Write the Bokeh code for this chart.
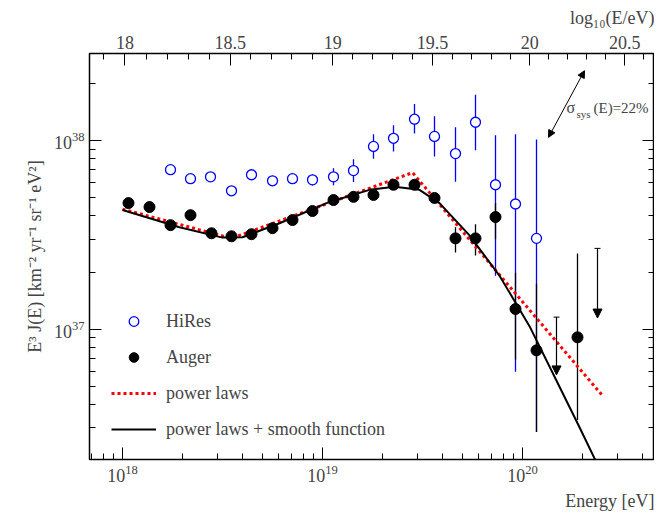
import numpy as np
from bokeh.plotting import figure
from bokeh.models import (LinearAxis, LogAxis, Range1d, FixedTicker, LogTicker, Label, Title,
                          Arrow, NormalHead, TeeHead, Legend, LegendItem, CustomJSTickFormatter)
from bokeh.embed import file_html
from bokeh.resources import INLINE

# log10(E/eV) and log10(E^3 J)
auger_le = [18.03, 18.135, 18.24, 18.34, 18.445, 18.545, 18.645, 18.75, 18.85, 18.95, 19.055,
            19.155, 19.255, 19.355, 19.46, 19.56, 19.665, 19.765, 19.865, 19.965, 20.07, 20.275]
auger_lj = [37.668, 37.647, 37.551, 37.604, 37.508, 37.492, 37.503, 37.535, 37.578, 37.626, 37.684,
            37.701, 37.711, 37.765, 37.765, 37.695, 37.481, 37.481, 37.594, 37.107, 36.888, 36.957]
auger_hi = [v + 0.025 for v in auger_lj[:16]] + [37.540, 37.556, 37.668, 37.299, 37.241, 37.401]
auger_lo = [v - 0.025 for v in auger_lj[:16]] + [37.406, 37.390, 37.476, 36.840, 36.455, 36.519]

ul_le = [20.17, 20.375]
ul_top = [37.064, 37.428]
ul_bot = [36.758, 37.059]

hires_le = [18.24, 18.34, 18.44, 18.545, 18.645, 18.75, 18.85, 18.95, 19.055, 19.155, 19.255,
            19.355, 19.46, 19.56, 19.665, 19.765, 19.865, 19.965, 20.07]
hires_lj = [37.845, 37.797, 37.807, 37.733, 37.818, 37.786, 37.797, 37.791, 37.807, 37.840, 37.968,
            38.011, 38.112, 38.021, 37.930, 38.096, 37.765, 37.663, 37.481]
hires_err = [0.02, 0.02, 0.02, 0.025, 0.025, 0.027, 0.027, 0.03, 0.045, 0.06, 0.065]
hires_hi = [v + e for v, e in zip(hires_lj, hires_err)] + [38.080, 38.193, 38.128, 38.070, 38.241, 38.027, 38.032, 38.005]
hires_lo = [v - e for v, e in zip(hires_lj, hires_err)] + [37.941, 38.037, 37.914, 37.781, 37.947, 37.283, 36.775, 36.455]

pl_le = [18.0, 18.545, 19.45, 20.405]
pl_lj = [37.636, 37.481, 37.829, 36.642]

sm_le = [18.0, 18.285, 18.5, 18.6, 18.785, 19.035, 19.235, 19.36, 19.485, 19.585, 19.735,
         19.885, 20.035, 20.185, 20.285, 20.365]
sm_lj = [37.631, 37.540, 37.485, 37.487, 37.561, 37.674, 37.738, 37.754, 37.738, 37.668, 37.497,
         37.283, 37.016, 36.695, 36.481, 36.305]

top_ticks = [18, 18.5, 19, 19.5, 20, 20.5]

x_lo, x_hi = 17.835, 20.66
y_lo, y_hi = 36.31, 38.46
E = lambda a: [10 ** v for v in a]

FONT = "Liberation Serif"

p = figure(width=654, height=514, x_axis_type="log", y_axis_type="log",
           x_range=Range1d(10 ** x_lo, 10 ** x_hi), y_range=Range1d(10 ** y_lo, 10 ** y_hi),
           output_backend="svg", toolbar_location=None,
           min_border_left=89, min_border_right=0, min_border_top=30, min_border_bottom=30)
p.grid.grid_line_color = None
p.outline_line_color = "black"
p.outline_line_width = 1.5

p.extra_x_ranges = {"top": Range1d(x_lo, x_hi)}
top = LinearAxis(x_range_name="top", ticker=FixedTicker(ticks=top_ticks,
                 minor_ticks=list(np.arange(17.9, 20.65, 0.1))))
p.add_layout(top, "above")
right = LogAxis(ticker=LogTicker(num_minor_ticks=10),
                formatter=CustomJSTickFormatter(code="return ''"))
p.add_layout(right, "right")

bottom = p.below[0]
left = p.left[0]
bottom.ticker = LogTicker(num_minor_ticks=10)
left.ticker = LogTicker(num_minor_ticks=10)
for ax in [bottom, left, top, right]:
    ax.major_tick_in = 12
    ax.major_tick_out = 0
    ax.minor_tick_in = 6
    ax.minor_tick_out = 0
    ax.axis_line_color = None
    ax.major_label_text_font = FONT
    ax.major_label_text_font_size = "18px"
right.major_label_standoff = 0
left.axis_label = "E³ J(E) [km⁻² yr⁻¹ sr⁻¹ eV²]"
left.axis_label_text_font = FONT
left.axis_label_text_font_style = "normal"
left.axis_label_text_font_size = "18px"
left.axis_label_standoff = 6

p.add_layout(Title(text="Energy [eV]", align="right", text_font=FONT, text_font_style="normal",
                   text_font_size="18px", standoff=8), "below")
p.add_layout(Title(text="log₁₀(E/eV)", align="right", text_font=FONT, text_font_style="normal",
                   text_font_size="18px"), "above")

# error bars
p.segment(E(hires_le), E(hires_lo), E(hires_le), E(hires_hi), line_color="blue", line_width=1.3)
p.segment(E(auger_le), E(auger_lo), E(auger_le), E(auger_hi), line_color="black", line_width=1.3)

r_pl = p.line(E(pl_le), E(pl_lj), line_color="red", line_width=3, line_dash="3 3")
r_sm = p.line(E(sm_le), E(sm_lj), line_color="black", line_width=2)
r_h = p.scatter(E(hires_le), E(hires_lj), marker="circle", size=10, fill_color="white",
                line_color="blue", line_width=1.3)
r_a = p.scatter(E(auger_le), E(auger_lj), marker="circle", size=11, fill_color="black",
                line_color="black")

for le, t, b in zip(ul_le, ul_top, ul_bot):
    p.add_layout(Arrow(x_start=10 ** le, y_start=10 ** t, x_end=10 ** le, y_end=10 ** b,
                       end=NormalHead(size=9, fill_color="black"), start=TeeHead(size=6),
                       line_width=1.2))

p.add_layout(Arrow(x_start=10 ** 20.13, y_start=10 ** 38.016, x_end=10 ** 20.31, y_end=10 ** 38.369,
                   start=NormalHead(size=7, fill_color="black"), end=NormalHead(size=7, fill_color="black"),
                   line_width=1))
p.add_layout(Label(x=10 ** 20.22, y=10 ** 38.13, text="σ", text_font=FONT, text_font_size="16px"))
p.add_layout(Label(x=10 ** 20.22, y=10 ** 38.13, x_offset=10, y_offset=-4, text="sys",
                   text_font=FONT, text_font_size="11px"))
p.add_layout(Label(x=10 ** 20.22, y=10 ** 38.13, x_offset=27, text="(E)=22%",
                   text_font=FONT, text_font_size="15px"))

legend = Legend(items=[LegendItem(label="HiRes", renderers=[r_h]),
                       LegendItem(label="Auger", renderers=[r_a]),
                       LegendItem(label="power laws", renderers=[r_pl]),
                       LegendItem(label="power laws + smooth function", renderers=[r_sm])],
                location=(22, 18), border_line_color=None, background_fill_alpha=0,
                label_text_font=FONT, label_text_font_size="18px", glyph_width=45,
                glyph_height=24, spacing=12, label_standoff=10)
p.add_layout(legend, "center")

open("out.html", "w").write(file_html(p, INLINE))
